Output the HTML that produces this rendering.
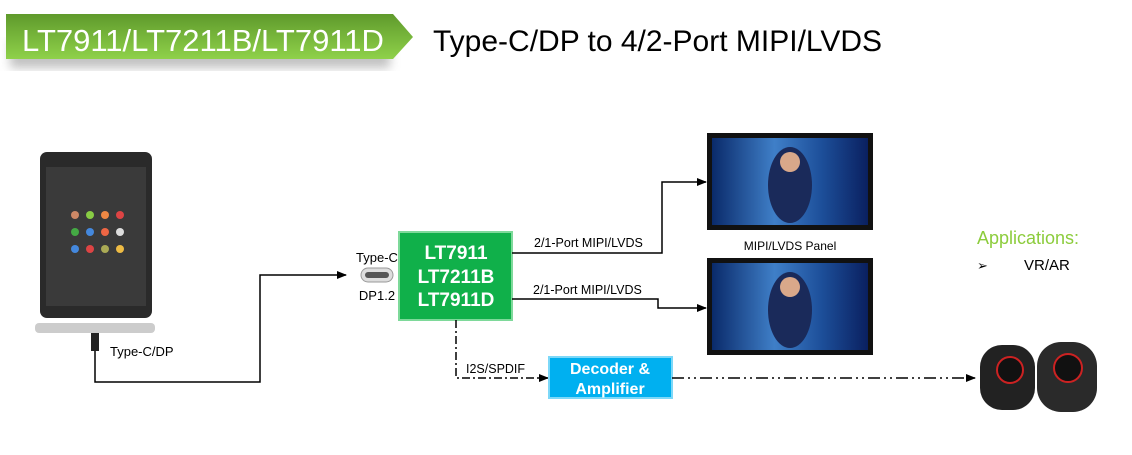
<!DOCTYPE html>
<html><head><style>
body{margin:0;width:1132px;height:450px;background:#fff;overflow:hidden;font-family:"Liberation Sans",sans-serif}
</style></head><body>
<svg width="1132" height="450" xmlns="http://www.w3.org/2000/svg" font-family="Liberation Sans, sans-serif">
<defs>
<linearGradient id="g1" x1="0" y1="0" x2="0" y2="1"><stop offset="0" stop-color="#5f9a2c"/><stop offset="1" stop-color="#8fd14a"/></linearGradient>
<linearGradient id="scr" x1="0" y1="0" x2="1" y2="0"><stop offset="0" stop-color="#0a2a6a"/><stop offset="0.4" stop-color="#3f7fc8"/><stop offset="0.7" stop-color="#1d4f9a"/><stop offset="1" stop-color="#0a2060"/></linearGradient>
<filter id="sh"><feGaussianBlur stdDeviation="5"/></filter>
<marker id="ar" markerWidth="10" markerHeight="8" refX="9" refY="4" orient="auto" markerUnits="userSpaceOnUse"><path d="M0,0L10,4L0,8z" fill="#000"/></marker>
</defs>
<rect x="10" y="40" width="380" height="28" fill="#999" opacity="0.6" filter="url(#sh)"/>
<path d="M6,14H393L413,37L393,59H6z" fill="url(#g1)"/>
<text x="22" y="51" font-size="31" fill="#fff">LT7911/LT7211B/LT7911D</text>
<text x="433" y="51" font-size="30" fill="#000">Type-C/DP to 4/2-Port MIPI/LVDS</text>
<rect x="40" y="152" width="112" height="166" rx="7" fill="#2a2a2a"/>
<rect x="46" y="167" width="100" height="139" fill="#3a3a3a"/>
<g fill="#c86">
<circle cx="75" cy="215" r="4"/><circle cx="90" cy="215" r="4" fill="#8c4"/><circle cx="105" cy="215" r="4" fill="#e84"/><circle cx="120" cy="215" r="4" fill="#d44"/>
<circle cx="75" cy="232" r="4" fill="#4a4"/><circle cx="90" cy="232" r="4" fill="#48d"/><circle cx="105" cy="232" r="4" fill="#e64"/><circle cx="120" cy="232" r="4" fill="#ddd"/>
<circle cx="75" cy="249" r="4" fill="#48d"/><circle cx="90" cy="249" r="4" fill="#d44"/><circle cx="105" cy="249" r="4" fill="#aa5"/><circle cx="120" cy="249" r="4" fill="#eb4"/>
</g>
<rect x="35" y="323" width="120" height="10" rx="4" fill="#ccc"/>
<rect x="91" y="333" width="8" height="18" fill="#222"/>
<text x="110" y="356" font-size="13">Type-C/DP</text>
<polyline points="95,351 95,382 260,382 260,275 346,275" fill="none" stroke="#000" stroke-width="1.5" marker-end="url(#ar)"/>
<rect x="361" y="268" width="32" height="14" rx="7" fill="#ddd" stroke="#999"/>
<rect x="365" y="272" width="24" height="6" rx="3" fill="#555"/>
<text x="377" y="262" font-size="13" text-anchor="middle">Type-C</text>
<text x="377" y="300" font-size="13" text-anchor="middle">DP1.2</text>
<rect x="399" y="232" width="113" height="88" fill="#10b04a" stroke="#7ed99a" stroke-width="2"/>
<g font-size="19" font-weight="bold" fill="#fff" text-anchor="middle">
<text x="456" y="259">LT7911</text><text x="456" y="283">LT7211B</text><text x="456" y="306">LT7911D</text></g>
<polyline points="512,253 662,253 662,182 706,182" fill="none" stroke="#000" stroke-width="1.5" marker-end="url(#ar)"/>
<polyline points="512,299 658,299 658,308 706,308" fill="none" stroke="#000" stroke-width="1.5" marker-end="url(#ar)"/>
<text x="534" y="247" font-size="12.5">2/1-Port MIPI/LVDS</text>
<text x="533" y="294" font-size="12.5">2/1-Port MIPI/LVDS</text>
<polyline points="456,320 456,378 548,378" fill="none" stroke="#000" stroke-width="1.5" stroke-dasharray="8,3,2,3" marker-end="url(#ar)"/>
<text x="466" y="373" font-size="12.5">I2S/SPDIF</text>
<rect x="549" y="357" width="123" height="41" fill="#00b0f0" stroke="#7dd8f8" stroke-width="2"/>
<text x="610" y="374" font-size="16" font-weight="bold" fill="#fff" text-anchor="middle">Decoder &amp;</text>
<text x="610" y="394" font-size="16" font-weight="bold" fill="#fff" text-anchor="middle">Amplifier</text>
<line x1="672" y1="378" x2="975" y2="378" stroke="#000" stroke-width="1.5" stroke-dasharray="12,4,2,4,2,4" marker-end="url(#ar)"/>
<rect x="707" y="133" width="166" height="97" fill="#111"/>
<rect x="712" y="138" width="156" height="87" fill="url(#scr)"/>
<ellipse cx="790" cy="185" rx="22" ry="38" fill="#1a2a5a"/><circle cx="790" cy="162" r="10" fill="#d9a88a"/>
<text x="790" y="250" font-size="12" text-anchor="middle">MIPI/LVDS Panel</text>
<rect x="707" y="258" width="166" height="97" fill="#111"/>
<rect x="712" y="263" width="156" height="87" fill="url(#scr)"/>
<ellipse cx="790" cy="310" rx="22" ry="38" fill="#1a2a5a"/><circle cx="790" cy="287" r="10" fill="#d9a88a"/>
<text x="977" y="244" font-size="18" fill="#8ccc3c">Applications:</text>
<text x="977" y="270" font-size="13">➢</text>
<text x="1024" y="270" font-size="15">VR/AR</text>
<rect x="980" y="345" width="55" height="65" rx="22" fill="#222"/>
<circle cx="1010" cy="370" r="13" fill="#111" stroke="#c22" stroke-width="2"/>
<rect x="1037" y="342" width="60" height="70" rx="24" fill="#2a2a2a"/>
<circle cx="1068" cy="368" r="14" fill="#111" stroke="#c22" stroke-width="2"/>
</svg>
</body></html>
